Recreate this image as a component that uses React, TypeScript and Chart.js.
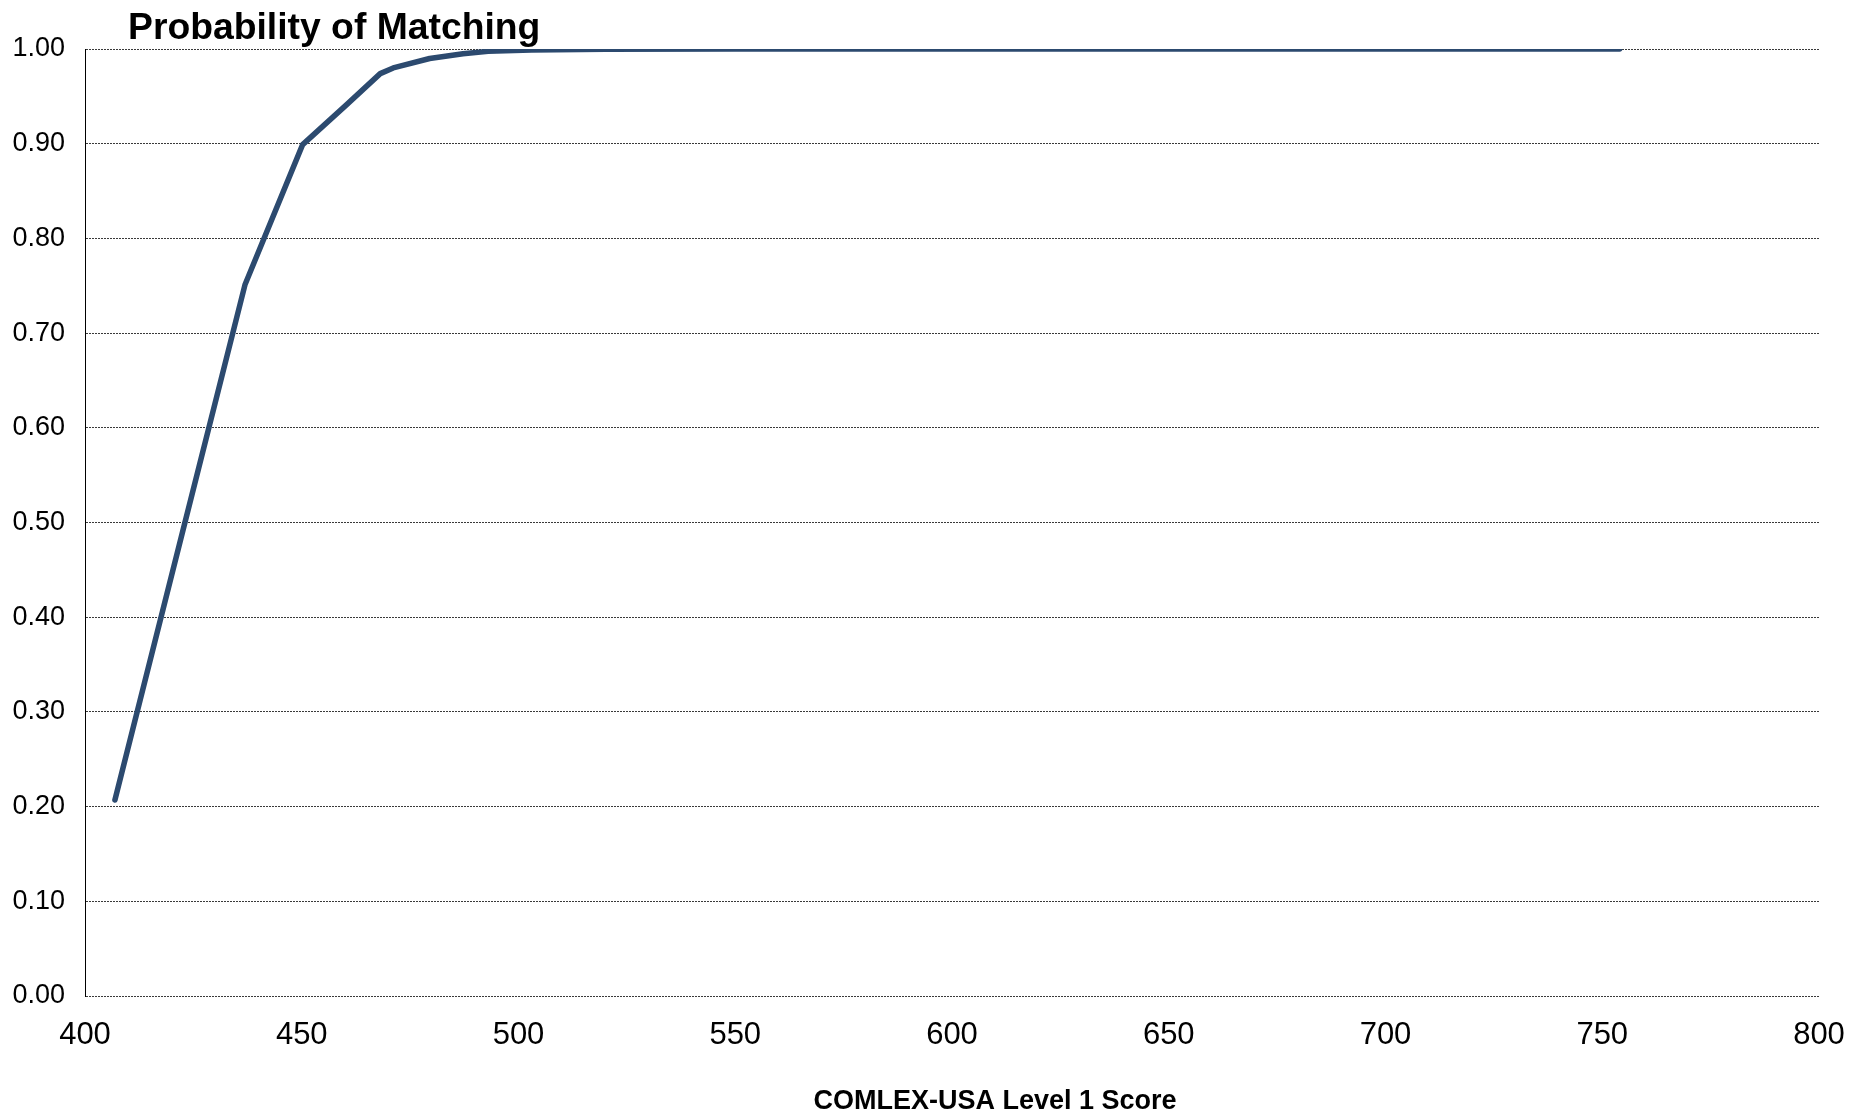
import React, { useEffect, useRef } from "react";
import { Chart, registerables } from "chart.js";

Chart.register(...registerables);

const chartTitle = "Probability of Matching";
const xAxisTitle = "COMLEX-USA Level 1 Score";

// COMLEX-USA Level 1 score (x) vs probability of matching (y)
const scores = [406.9, 422.5, 436.9, 450.2, 460.3, 468.1, 471.1, 479.5, 487.2, 493, 503, 520, 550, 754];
const probabilities = [0.207, 0.49, 0.751, 0.899, 0.941, 0.974, 0.98, 0.99, 0.995, 0.9975, 0.999, 0.9997, 1.0, 1.0];

const xMin = 400;
const xMax = 800;
const xStep = 50;
const yMin = 0;
const yMax = 1;
const yStep = 0.1;

const FONT = '"Liberation Sans", Arial, Helvetica, sans-serif';

const titlesPlugin = {
  id: "customTitles",
  afterDraw(chart: any) {
    const { ctx, chartArea } = chart;
    ctx.save();
    ctx.fillStyle = "#000000";
    ctx.font = `bold 37.3px ${FONT}`;
    ctx.textAlign = "left";
    ctx.textBaseline = "alphabetic";
    ctx.fillText(chartTitle, chartArea.left + 43, 38.5);
    ctx.font = `bold 27px ${FONT}`;
    ctx.textAlign = "center";
    ctx.textBaseline = "middle";
    ctx.fillText(xAxisTitle, (chartArea.left + chartArea.right) / 2 + 43, 1102);
    ctx.restore();
  },
};

export default function App() {
  const canvasRef = useRef<HTMLCanvasElement | null>(null);

  useEffect(() => {
    if (!canvasRef.current) return;
    Chart.defaults.font.family = FONT;
    const points = scores.map((s, i) => ({ x: s, y: probabilities[i] }));
    const chart = new Chart(canvasRef.current, {
      type: "line",
      data: {
        datasets: [
          {
            label: "Probability of Matching",
            data: points,
            borderColor: "#2c4a6f",
            backgroundColor: "#2c4a6f",
            borderWidth: 5.5,
            pointRadius: 0,
            tension: 0,
            borderCapStyle: "round",
            borderJoinStyle: "round",
            fill: false,
          },
        ],
      },
      options: {
        responsive: false,
        animation: false,
        devicePixelRatio: 1,
        layout: { padding: { top: 49, right: 31, bottom: 0, left: 0 } },
        plugins: {
          legend: { display: false },
          title: { display: false },
          tooltip: { enabled: false },
        },
        scales: {
          x: {
            type: "linear",
            min: xMin,
            max: xMax,
            ticks: {
              stepSize: xStep,
              padding: 21,
              color: "#000000",
              font: { size: 31, family: FONT },
              maxRotation: 0,
              autoSkip: false,
            },
            grid: { display: false, drawTicks: false },
            border: { display: false },
            afterFit(scale: any) {
              scale.height = 118;
              scale.paddingLeft = 0;
              scale.paddingRight = 0;
            },
          },
          y: {
            type: "linear",
            min: yMin,
            max: yMax,
            ticks: {
              stepSize: yStep,
              padding: 20,
              color: "#000000",
              font: { size: 27, family: FONT },
              callback: (v: any) => Number(v).toFixed(2),
            },
            grid: {
              display: true,
              drawTicks: false,
              color: "#3a3a3a",
              lineWidth: 1,
              borderDash: [2, 1],
            } as any,
            border: { display: true, color: "#000000", width: 1, dash: [2, 1] },
            afterFit(scale: any) {
              scale.width = 85;
              scale.paddingTop = 0;
              scale.paddingBottom = 0;
            },
          },
        },
      },
      plugins: [titlesPlugin],
    } as any);
    return () => chart.destroy();
  }, []);

  return (
    <div style={{ position: "fixed", left: 0, top: 0, width: "1850px", height: "1114px", background: "#ffffff" }}>
      <canvas ref={canvasRef} width={1850} height={1114} style={{ width: "1850px", height: "1114px", display: "block" }} />
    </div>
  );
}
